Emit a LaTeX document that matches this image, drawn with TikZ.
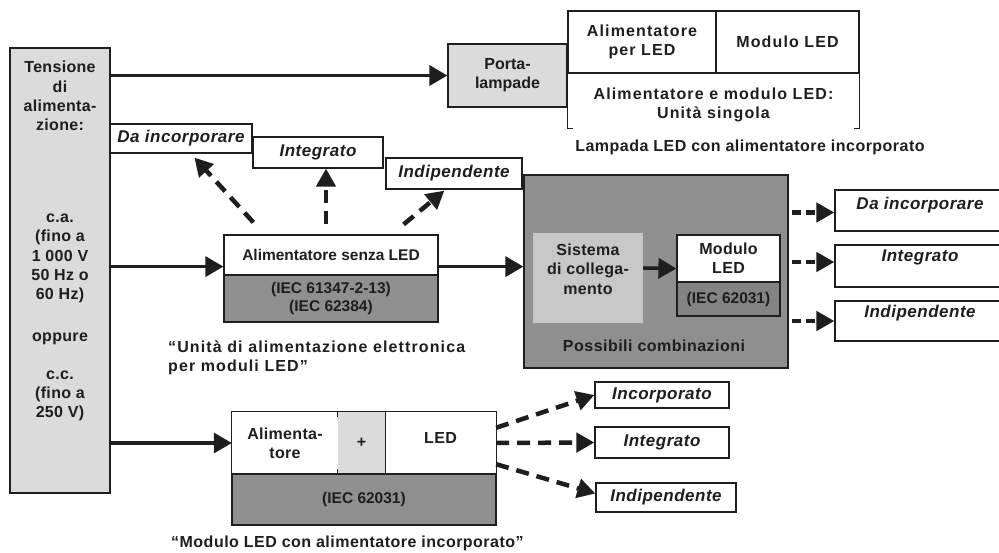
\documentclass[tikz,border=0pt]{standalone}
\usepackage{fontspec}
\setmainfont{Liberation Sans}
\newfontfamily\tightfont{Liberation Sans}
\newfontfamily\midfont[LetterSpace=2]{Liberation Sans}
\newfontfamily\widefont[LetterSpace=3]{Liberation Sans}
\newfontfamily\quotefont[LetterSpace=7]{Liberation Sans}
\newfontfamily\tablefont[LetterSpace=7]{Liberation Sans}
\newfontfamily\labelfont[LetterSpace=3]{Liberation Sans}
\usetikzlibrary{arrows.meta, calc, positioning}
\definecolor{inkcolor}{HTML}{1E1E1E}
\colorlet{palegray}{black!14}
\colorlet{sysgray}{black!22}
\colorlet{darkgray}{black!44}

\tikzset{
  plain/.style={inner sep=0pt, align=center, text=inkcolor,
    font=\midfont\bfseries\fontsize{16}{19.3}\selectfont},
  box/.style={plain, draw=inkcolor, line width=1.2pt},
  tagtext/.style={plain, font=\labelfont\bfseries\itshape\fontsize{17}{19}\selectfont},
  tag/.style={box, tagtext},
  normtext/.style={font=\tightfont\bfseries\fontsize{15.5}{18.5}\selectfont},
  tabletext/.style={font=\tablefont\bfseries\fontsize{16}{19.3}\selectfont},
  captext/.style={font=\widefont\bfseries\fontsize{16}{19.3}\selectfont},
  edge/.style={draw=inkcolor, line width=1.2pt},
  arr/.style={draw=inkcolor, line width=3.5pt, -{Triangle[length=18pt,width=20pt]}},
  dasharr/.style={draw=inkcolor, line width=4.5pt, dash pattern=on 13pt off 8pt,
    -{Triangle[length=18pt,width=19pt]}},
  shortdash/.style={dasharr, dash pattern=on 9pt off 5pt}
}

\begin{document}
\begin{tikzpicture}[x=1pt, y=-1pt]

  \useasboundingbox (0,0) rectangle (999,553);
  \fill[white] (0,0) rectangle (999,553);

  % supply column
  \node[box, fill=palegray, minimum width=100pt, minimum height=445pt] (supply) at (60,270.5) {};
  \node[plain] (supplytop) at (60,96) {Tensione\\di\\alimenta-\\zione:};
  \node[plain] (supplyac) at (60,258.5) {c.a.\\(fino a\\1 000 V\\50 Hz o\\60 Hz)};
  \node[plain] (supplyor) at (60,339) {oppure};
  \node[plain] (supplydc) at (60,396) {c.c.\\(fino a\\250 V)};

  % lamp with built-in driver
  \node[box, fill=palegray, minimum width=119pt, minimum height=63pt,
    font=\tightfont\bfseries\fontsize{16}{19.3}\selectfont] (porta) at (507.5,75.5) {Porta-\\lampade};
  \node[box, tabletext, minimum width=148pt, minimum height=62pt] (lampdrv) at (642,42) {Alimentatore\\per LED};
  \node[box, tabletext, minimum width=143pt, minimum height=62pt] (lampmod) at (787.5,42) {Modulo LED};
  \draw[edge] (lampdrv.south west) -- ++(0,55) -- ++(6,0);
  \draw[edge] (lampmod.south east) -- ++(0,55) -- ++(-6,0);
  \node[plain, tabletext] (lampone) at (713.5,105) {Alimentatore e modulo LED:\\Unità singola};
  \node[plain, captext] (lampcap) at (750,147) {Lampada LED con alimentatore incorporato};

  % driver without LED
  \node[tag, minimum width=142pt, minimum height=29pt] (upinc) at (181,138.5) {Da incorporare};
  \node[tag, minimum width=130pt, minimum height=31pt] (upint) at (318,152.5) {Integrato};
  \node[tag, minimum width=136pt, minimum height=31pt] (upind) at (454,173.5) {Indipendente};
  \node[box, normtext, fill=white, minimum width=214pt, minimum height=40pt] (drvtop) at (331,255) {Alimentatore senza LED};
  \node[box, normtext, fill=darkgray, minimum width=214pt, minimum height=47pt] (drvnorm) at (331,298.5) {(IEC 61347-2-13)\\(IEC 62384)};
  \node[plain, align=left, anchor=west, font=\quotefont\bfseries\fontsize{16}{19.3}\selectfont] (drvcap) at (168,357.5)
    {“Unità di alimentazione elettronica\\per moduli LED”};

  % possible combinations
  \node[box, fill=darkgray, minimum width=264pt, minimum height=193pt] (combo) at (656,271.5) {};
  \node[plain, fill=sysgray, minimum width=110pt, minimum height=90pt] (link) at (588,278) {};
  \node[plain] (linktext) at (588,269) {Sistema\\di collega-\\mento};
  \node[box, fill=white, minimum width=103pt, minimum height=47pt] (modtop) at (728.5,258.5) {Modulo\\LED};
  \node[box, normtext, fill=darkgray!92!black, minimum width=103pt, minimum height=34pt] (modnorm) at (728.5,299) {(IEC 62031)};
  \node[plain, captext] (combocap) at (654,346) {Possibili combinazioni};

  \node[box, minimum width=175pt, minimum height=41pt] (sideinc) at (922.5,210.5) {};
  \node[tagtext] (sideinctext) at (920,205) {Da incorporare};
  \node[box, minimum width=175pt, minimum height=42pt] (sideint) at (922.5,266) {};
  \node[tagtext] (sideinttext) at (920,257) {Integrato};
  \node[box, minimum width=175pt, minimum height=40pt] (sideind) at (922.5,321) {};
  \node[tagtext] (sideindtext) at (920,313) {Indipendente};

  % LED module with built-in driver
  \node[plain, fill=white, minimum width=106pt, minimum height=62pt] (ledpsu) at (285,443) {Alimenta-\\tore};
  \node[plain, fill=palegray, minimum width=47pt, minimum height=62pt] (ledplus) at (361.5,443) {+};
  \node[plain, minimum width=111pt, minimum height=62pt] (ledchip) at (440.5,438) {LED};
  \draw[edge] (ledpsu.north west) rectangle (ledpsu.south west -| ledchip.east);
  \draw[edge] (ledplus.north east) -- (ledplus.south east);
  \draw[edge] (ledplus.north west) -- ++(0,5);
  \draw[edge] (ledplus.south west) -- ++(0,-5);
  \node[box, normtext, fill=darkgray, minimum width=264pt, minimum height=51pt] (lednorm) at (364,499.5) {(IEC 62031)};
  \node[plain, captext, anchor=west] (ledcap) at (171,543) {“Modulo LED con alimentatore incorporato”};
  \node[tag, minimum width=134pt, minimum height=26pt] (lowinc) at (662,395) {Incorporato};
  \node[tag, minimum width=134pt, minimum height=31pt] (lowint) at (662,442.5) {Integrato};
  \node[tag, minimum width=140pt, minimum height=29pt] (lowind) at (666,497.5) {Indipendente};

  % solid connectors
  \coordinate (drvin) at ($(drvtop.south west)+(0,-9)$);
  \coordinate (drvout) at ($(drvtop.south east)+(0,-9)$);
  \draw[arr] (supply.east |- porta.west) -- (porta.west);
  \draw[arr] (drvin -| supply.east) -- (drvin);
  \draw[arr] (drvout) -- (drvout -| combo.west);
  \draw[arr] (supply.east |- ledpsu.west) -- (ledpsu.west);
  \draw[arr] ($(link.east)+(0,-10)$) -- ($(modtop.south west)+(0,-14)$);

  % dashed connectors
  \draw[dasharr] ($(drvtop.north west)+(30,-12)$) -- ($(upinc.south west)+(85,4)$);
  \draw[dasharr] ($(drvtop.north)+(-5,-10)$) -- ($(upint.south)+(8,0)$);
  \draw[dasharr] ($(drvtop.north east)+(-35,-10)$) -- ($(upind.south west)+(59,1)$);
  \draw[shortdash] ($(combo.east |- sideinc.west)+(3,2)$) -- ($(sideinc.west)+(0,2)$);
  \draw[shortdash] ($(combo.east |- sideint.west)+(3,-4)$) -- ($(sideint.west)+(0,-4)$);
  \draw[shortdash] ($(combo.east |- sideind.west)+(3,0)$) -- (sideind.west);
  \draw[dasharr] ($(ledpsu.north west -| ledchip.east)+(0,16)$) -- (lowinc.west);
  \draw[dasharr] (ledpsu.west -| ledchip.east) -- (lowint.west);
  \draw[dasharr] ($(ledpsu.south west -| ledchip.east)+(0,-10)$) -- ($(lowind.west)+(0,-4)$);

\end{tikzpicture}
\end{document}
